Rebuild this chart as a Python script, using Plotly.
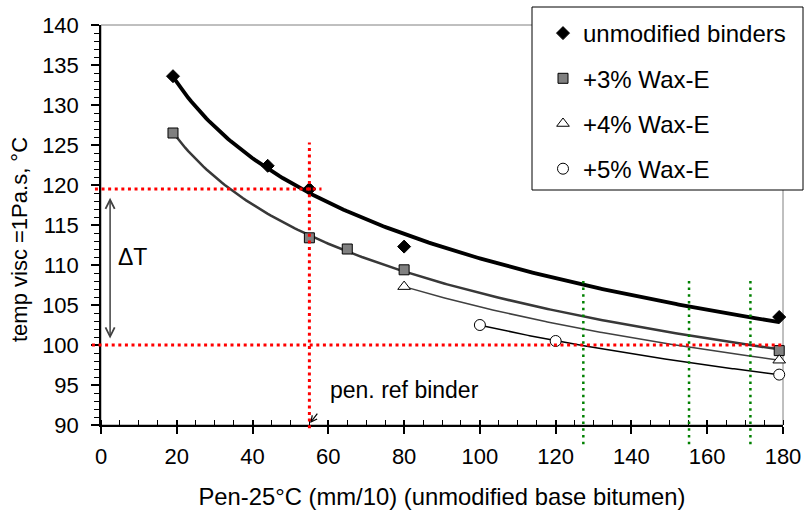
import numpy as np
import plotly.graph_objects as go

# ---------------- data ----------------
x_unmod = [19, 44, 55, 80, 179]
y_unmod = [133.6, 122.4, 119.5, 112.3, 103.5]

x_w3 = [19, 55, 65, 80, 179]
y_w3 = [126.5, 113.4, 112.0, 109.4, 99.3]

x_w4 = [80, 179]
y_w4 = [107.3, 98.1]

x_w5 = [100, 120, 179]
y_w5 = [102.5, 100.5, 96.3]

names = ["unmodified binders", "+3% Wax-E", "+4% Wax-E", "+5% Wax-E"]

ref_pen = 55          # pen. ref binder
ref_temp = 119.5      # temp of ref binder
target_temp = 100     # target temperature
green_pen = [127.3, 155.2, 171.4]

x_ticks = list(range(0, 181, 20))
y_ticks = list(range(90, 141, 5))

XMIN, XMAX, YMIN, YMAX = 0, 180, 90, 140
FONT = "Liberation Sans, Arial, sans-serif"


def px(v):
    return (v - XMIN) / (XMAX - XMIN)


def py(v):
    return (v - YMIN) / (YMAX - YMIN)


def log_fit(xs, ys):
    b, a = np.polyfit(np.log(xs), ys, 1)
    xx = np.linspace(min(xs), max(xs), 200)
    return xx, a + b * np.log(xx)


fig = go.Figure()

series = [
    (x_unmod, y_unmod, dict(color="black", width=3.8),
     dict(symbol="diamond", size=10, color="black", line=dict(color="black", width=1))),
    (x_w3, y_w3, dict(color="#383838", width=2.5),
     dict(symbol="square", size=10, color="#808080", line=dict(color="black", width=1))),
    (x_w4, y_w4, dict(color="#404040", width=1.5),
     dict(symbol="triangle-up", size=11, color="white", line=dict(color="black", width=1))),
    (x_w5, y_w5, dict(color="black", width=1.5),
     dict(symbol="circle", size=11, color="white", line=dict(color="black", width=1))),
]

for i, (xs, ys, ln, mk) in enumerate(series):
    fx, fy = log_fit(xs, ys)
    fig.add_trace(go.Scatter(x=fx, y=fy, mode="lines", line=ln,
                             showlegend=False, hoverinfo="skip"))

for i, (xs, ys, ln, mk) in enumerate(series):
    fig.add_trace(go.Scatter(x=xs, y=ys, mode="markers", marker=mk,
                             name=names[i], legendgroup=f"g{i}",
                             cliponaxis=False))

shapes = []
# plot frame (grey)
shapes.append(dict(type="rect", xref="paper", yref="paper", x0=0, y0=0, x1=1, y1=1,
                   line=dict(color="#808080", width=1), layer="below"))

red = dict(color="#FF0000", width=3, dash="3px,3.6px")
green = dict(color="#008000", width=2.5, dash="2.5px,4.2px")

shapes.append(dict(type="line", xref="paper", yref="paper",
                   x0=px(-1.6), x1=px(58.2), y0=py(ref_temp), y1=py(ref_temp), line=red))
shapes.append(dict(type="line", xref="paper", yref="paper",
                   x0=px(-2.4), x1=px(180), y0=py(target_temp), y1=py(target_temp), line=red))
shapes.append(dict(type="line", xref="paper", yref="paper",
                   x0=px(ref_pen), x1=px(ref_pen), y0=py(89.6), y1=py(125.3), line=red))
for g in green_pen:
    shapes.append(dict(type="line", xref="paper", yref="paper",
                       x0=px(g), x1=px(g), y0=py(87.6), y1=py(108.3), line=green))

# legend box
shapes.append(dict(type="rect", xref="paper", yref="paper",
                   x0=(532 - 101) / 682, x1=(803 - 101) / 682,
                   y0=(425 - 190) / 400, y1=(425 - 7) / 400,
                   line=dict(color="black", width=1), fillcolor="white", layer="above"))

annotations = [
    # delta T double arrow
    dict(x=2.4, y=100.8, ax=2.4, ay=118.6, xref="x", yref="y", axref="x", ayref="y",
         text="", showarrow=True, arrowhead=5, startarrowhead=5, arrowside="end+start",
         arrowsize=1.2, startarrowsize=1.2, arrowwidth=1.5, arrowcolor="#404040"),
    dict(x=8.4, y=111, xref="x", yref="y", text="ΔT", showarrow=False,
         font=dict(family=FONT, size=23, color="black")),
    dict(x=80.2, y=94.4, xref="x", yref="y", text="pen. ref binder", showarrow=False,
         font=dict(family=FONT, size=23, color="black")),
    dict(x=55.2, y=90.25, ax=57.4, ay=91.6, xref="x", yref="y", axref="x", ayref="y",
         text="", showarrow=True, arrowhead=5, arrowsize=1, arrowwidth=1.2,
         arrowcolor="black"),
    # y axis title
    dict(x=(19 - 101) / 682, y=(425 - 240) / 400, xref="paper", yref="paper",
         xanchor="center", yanchor="middle",
         text="temp visc =1Pa.s, °C", textangle=-90, showarrow=False,
         font=dict(family=FONT, size=22, color="black")),
]

fig.update_layout(
    width=804, height=517,
    margin=dict(l=101, r=21, t=25, b=92, autoexpand=False),
    paper_bgcolor="white", plot_bgcolor="white",
    font=dict(family=FONT, size=22, color="black"),
    shapes=shapes, annotations=annotations,
    showlegend=True,
    legend=dict(x=(543 - 101) / 682, y=(425 - 11) / 400, xanchor="left", yanchor="top",
                bgcolor="rgba(0,0,0,0)", borderwidth=0,
                font=dict(family=FONT, size=24, color="black"),
                traceorder="grouped", tracegroupgap=11),
    xaxis=dict(range=[XMIN, XMAX], tickvals=x_ticks, ticktext=[str(v) for v in x_ticks],
               showgrid=False, zeroline=False, showline=True, linecolor="black", linewidth=1.5,
               ticks="outside", ticklen=7, tickwidth=1.5, tickcolor="black",
               minor=dict(dtick=5, ticks="inside", ticklen=5, tickwidth=1, tickcolor="black"),
               tickfont=dict(family=FONT, size=22), ticklabelstandoff=4,
               title=dict(text="Pen-25°C (mm/10) (unmodified base bitumen)",
                          font=dict(family=FONT, size=23.8), standoff=20)),
    xaxis2=dict(range=[XMIN, XMAX], overlaying="x", side="bottom", tickvals=x_ticks,
                showticklabels=False, showgrid=False, zeroline=False, showline=False,
                ticks="inside", ticklen=5, tickwidth=1.5, tickcolor="black"),
    yaxis=dict(range=[YMIN, YMAX], tickvals=y_ticks, ticktext=[str(v) for v in y_ticks],
               showgrid=False, zeroline=False, showline=True, linecolor="black", linewidth=1.5,
               ticks="outside", ticklen=8, tickwidth=1.5, tickcolor="black",
               minor=dict(dtick=1, ticks="outside", ticklen=5, tickwidth=1, tickcolor="black"),
               tickfont=dict(family=FONT, size=22), ticklabelstandoff=8),
)
# dummy trace to show xaxis2 ticks
fig.add_trace(go.Scatter(x=[None], y=[None], xaxis="x2", showlegend=False, hoverinfo="skip"))

fig.write_html("out.html")
